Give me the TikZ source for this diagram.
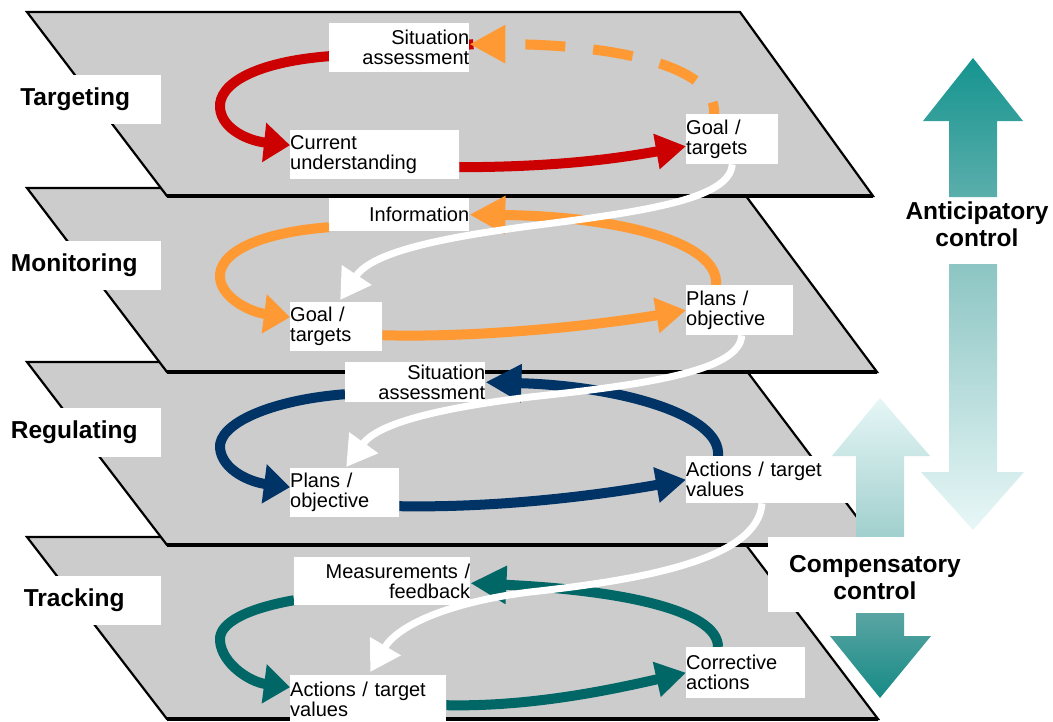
\documentclass[tikz,border=0pt]{standalone}
\usepackage{fontspec}
\setmainfont{Liberation Sans}
\usetikzlibrary{arrows.meta,calc}
\definecolor{planegray}{HTML}{CCCCCC}
\definecolor{cred}{HTML}{CC0000}
\definecolor{corange}{HTML}{FF9933}
\definecolor{cnavy}{HTML}{003366}
\definecolor{cteal}{HTML}{006666}
\definecolor{antTop}{HTML}{15948F}
\definecolor{antBot}{HTML}{5BAEAB}
\definecolor{adTop}{HTML}{8CC5C3}
\definecolor{adBot}{HTML}{E8F7F7}
\definecolor{cuTop}{HTML}{E6F6F6}
\definecolor{cuBot}{HTML}{9CCDCB}
\definecolor{cdTop}{HTML}{5AA5A3}
\definecolor{cdBot}{HTML}{168A85}
\pgfdeclarelayer{bgwhite}
\pgfdeclarelayer{planes}
\pgfdeclarelayer{loops}
\pgfdeclarelayer{front}
\pgfsetlayers{bgwhite,planes,loops,main,front}
\begin{document}
\begin{tikzpicture}[x=1pt,y=-1pt,
  planebox/.style={fill=planegray,draw=black,line width=2.2pt,line join=miter},
  planeshadow/.style={draw=black,line width=3.5pt},
  lbl/.style={fill=white,inner sep=0pt,anchor=north west,font=\fontsize{20}{20}\selectfont},
  lblL/.style={lbl,align=left},
  lblR/.style={lbl,align=right},
  lvlbox/.style={fill=white,inner sep=0pt,minimum width=161pt,minimum height=49pt,anchor=north west},
  bigtxt/.style={font=\fontsize{24.5}{27}\selectfont\bfseries,inner sep=0pt},
  loopline/.style={line width=10pt,line cap=butt,line join=round},
  headL/.style={-{Triangle[length=26pt,width=38pt]}},
  headS/.style={-{Triangle[length=30pt,width=34pt]}},
  headA/.style={-{Triangle[length=36pt,width=36pt]}},
  whitearrow/.style={draw=white,line width=7pt,line cap=butt,-{Triangle[length=30pt,width=34pt]}},
  ctrlbox/.style={fill=white,inner sep=0pt,anchor=north west}
]
\begin{pgfonlayer}{bgwhite}
\fill[white] (0,0) rectangle (1053,721);
\end{pgfonlayer}
\useasboundingbox (0,0) rectangle (1053,721);

% ---------- planes ----------
\begin{pgfonlayer}{planes}
\filldraw[planebox] (27,537) -- (740,537) -- (878,719) -- (167,719) -- cycle;
\draw[planeshadow] (167,719) -- (878,719);
\filldraw[planebox] (27,362) -- (740,362) -- (878,545) -- (167,545) -- cycle;
\draw[planeshadow] (167,545) -- (878,545);
\filldraw[planebox] (27,188) -- (740,188) -- (877,372) -- (167,372) -- cycle;
\draw[planeshadow] (167,372) -- (877,372);
\filldraw[planebox] (27,12) -- (740,12) -- (873,196) -- (167,196) -- cycle;
\draw[planeshadow] (167,196) -- (873,196);
\end{pgfonlayer}

% ---------- level labels ----------
\node[lvlbox] (tg) at (0,75) {};
\node[bigtxt] (tgT) at ([xshift=-5.5pt]tg.center) {Targeting};
\node[lvlbox] (mo) at (0,241) {};
\node[bigtxt] (moT) at ([xshift=-6.5pt]mo.center) {Monitoring};
\node[lvlbox] (re) at (0,408) {};
\node[bigtxt] (reT) at ([xshift=-6.5pt]re.center) {Regulating};
\node[lvlbox] (tr) at (0,576) {};
\node[bigtxt] (trT) at ([xshift=-6.5pt]tr.center) {Tracking};

% ---------- boxes ----------
\node[lblR, text width=140pt, minimum height=49pt] (sa1) at (329,23) {Situation\\assessment};
\node[lblL, text width=169pt, minimum height=49pt] (cu1) at (290,130) {Current\\understanding};
\node[lblL, text width=92pt, minimum height=50pt] (gt1) at (686,114) {Goal /\\targets};
\node[lblR, text width=140pt, minimum height=33pt] (inf2) at (329,198) {Information};
\node[lblL, text width=92pt, minimum height=49pt] (gt2) at (290,302) {Goal /\\targets};
\node[lblL, text width=107pt, minimum height=50pt] (po2) at (686,285) {Plans /\\objective};
\node[lblR, text width=140pt, minimum height=40pt] (sa3) at (345,362) {Situation\\assessment};
\node[lblL, text width=109pt, minimum height=49pt] (po3) at (290,468) {Plans /\\objective};
\node[lblL, text width=168pt, minimum height=47pt] (at3) at (686,456) {Actions / target\\values};
\node[lblR, text width=176pt, minimum height=48pt] (mf4) at (294,557) {Measurements /\\feedback};
\node[lblL, text width=156pt, minimum height=49pt] (at4) at (290,675) {Actions / target\\values};
\node[lblL, text width=119pt, minimum height=51pt] (ca4) at (686,647) {Corrective\\actions};

% ---------- loops ----------
\begin{pgfonlayer}{loops}
% level 1
\draw[loopline, cred, headL] ([xshift=4pt,yshift=3.5pt]sa1.east) -- ([yshift=-8.5pt]sa1.west)
  .. controls (255,62) and (218,84) .. (220,108)
  .. controls (222,130) and (250,141) .. ([yshift=9.5pt]cu1.west);
\draw[loopline, cred, headS] ([yshift=-12.5pt]cu1.east) .. controls (560,167) and (620,158) .. ([yshift=-7pt]gt1.west);
\draw[loopline, corange, headA, dash pattern=on 40pt off 28pt, dash phase=28pt]
  ([xshift=28pt]gt1.north west) .. controls (718,62) and (600,44) .. ([yshift=3.5pt]sa1.east);
% level 2
\draw[loopline, corange, headL] ([yshift=-12.5pt]inf2.west) .. controls (255,233) and (218,254) .. (220,278)
  .. controls (222,298) and (250,312) .. ([yshift=9.5pt]gt2.west);
\draw[loopline, corange, headS] ([yshift=-8.5pt]gt2.east) .. controls (480,338) and (600,325) .. (po2.west);
\draw[loopline, corange, headA] ([xshift=30pt]po2.north west) .. controls (720,240) and (610,216) .. (inf2.east);
% level 3
\draw[loopline, cnavy, headL] ([yshift=-12pt]sa3.west) .. controls (270,400) and (218,424) .. (220,448)
  .. controls (222,470) and (250,482) .. ([yshift=5.5pt]po3.west);
\draw[loopline, cnavy, headS] ([yshift=-13.5pt]po3.east) .. controls (500,508) and (600,495) .. (at3.west);
\draw[loopline, cnavy, headA] ([xshift=32pt]at3.north west) .. controls (722,415) and (620,386) .. (sa3.east);
% level 4
\draw[loopline, cteal, headL] ([yshift=-19pt]mf4.west) .. controls (250,608) and (218,622) .. (220,641)
  .. controls (222,664) and (250,682) .. ([yshift=12.5pt]at4.west);
\draw[loopline, cteal, headS] ([yshift=-5.5pt]at4.east) .. controls (530,707) and (610,690) .. (ca4.west);
\draw[loopline, cteal, headA] ([xshift=32pt]ca4.north west) .. controls (718,610) and (620,590) .. ([yshift=-2pt]mf4.east);
\end{pgfonlayer}

% ---------- white spiral ----------
\begin{pgfonlayer}{front}
\draw[whitearrow] (gt1.south) .. controls (730,200) and (640,212) .. (530,226)
  .. controls (440,238) and (372,252) .. ([xshift=4pt,yshift=2pt]gt2.north);
\draw[whitearrow] ([xshift=2pt]po2.south) .. controls (740,372) and (640,385) .. (530,397)
  .. controls (440,408) and (378,423) .. ([xshift=1.5pt,yshift=1pt]po3.north);
\draw[whitearrow] ([xshift=76pt]at3.south west) .. controls (758,560) and (640,580) .. (530,592)
  .. controls (450,602) and (398,625) .. ([xshift=2pt,yshift=3pt]at4.north);
\end{pgfonlayer}

% ---------- control arrows ----------
\shade[top color=antTop, bottom color=antBot] (973,58) -- (1023,121) -- (997,121) -- (997,197)
  -- (949,197) -- (949,121) -- (923,121) -- cycle;
\node[bigtxt, align=center] (ant) at (977,224) {Anticipatory\\control};
\shade[top color=adTop, bottom color=adBot] (949,264) -- (997,264) -- (997,472) -- (1024,472)
  -- (973,530) -- (921,472) -- (949,472) -- cycle;
\shade[top color=cuTop, bottom color=cuBot] (880,398) -- (930,456) -- (904,456) -- (904,546)
  -- (856,546) -- (856,456) -- (832,456) -- cycle;
\node[ctrlbox, minimum width=217pt, minimum height=75pt] (cbox) at (768,537) {};
\node[bigtxt, align=center] (comp) at (875,578) {Compensatory\\control};
\shade[top color=cdTop, bottom color=cdBot] (856,613) -- (904,613) -- (904,636) -- (931,636)
  -- (880,698) -- (830,636) -- (856,636) -- cycle;
\end{tikzpicture}
\end{document}
